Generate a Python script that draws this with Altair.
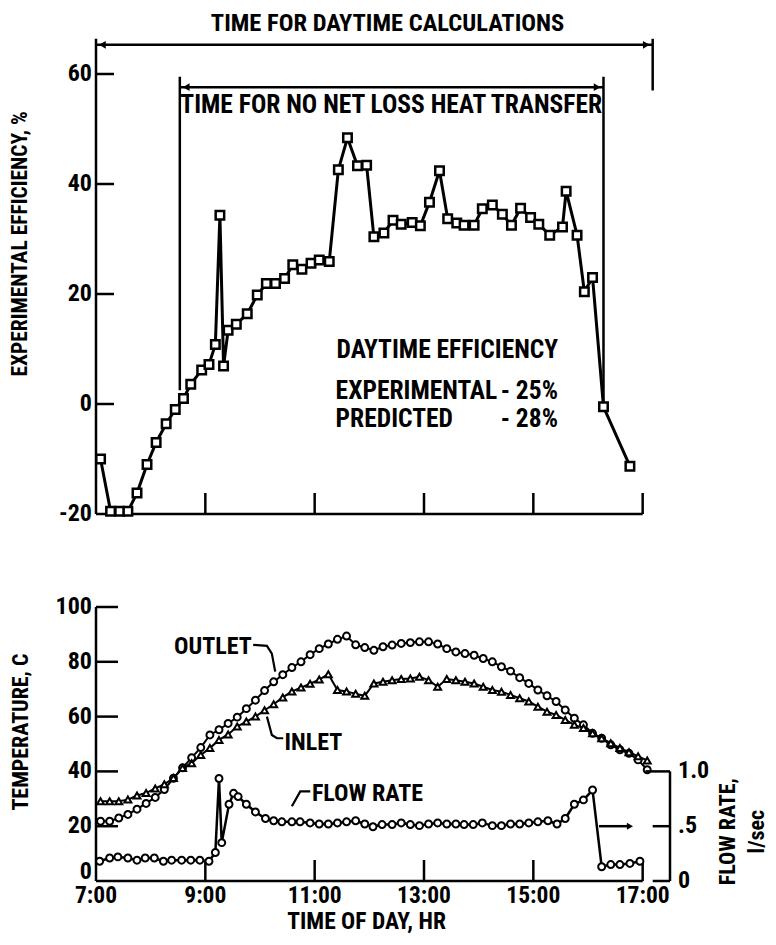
import altair as alt
import pandas as pd

FONT = ("Roboto Condensed, Noto Sans ExtraCondensed, Noto Sans Condensed, "
        "DejaVu Sans Condensed, Liberation Sans Narrow, Arial Narrow, sans-serif")
FS = 24      # tick labels
FA = 25.5    # annotations

# ---------------- top panel: experimental efficiency (time in minutes after midnight) -------------
eff_time = [425, 436, 446, 455, 465, 476, 486, 497, 507, 516, 524, 536, 544, 551, 556, 560, 565,
            574, 586, 597, 607, 617, 627, 636, 646, 656, 665, 676, 686, 696, 707, 717, 725, 736,
            746, 755, 767, 776, 786, 797, 806, 816, 824, 835, 844, 855, 866, 876, 886, 897, 906,
            918, 932, 936, 948, 956, 965, 977, 1006]
eff_value = [-10, -19.5, -19.5, -19.5, -16.2, -11, -7, -3.6, -1, 1, 3.6, 6.2, 7.2, 10.8, 34.3,
             6.9, 13.4, 14.5, 16.4, 19.8, 21.9, 21.9, 22.8, 25.3, 24.5, 25.6, 26.2, 25.9, 42.6,
             48.4, 43.3, 43.4, 30.4, 31.1, 33.4, 32.7, 33, 32.4, 36.7, 42.4, 33.7, 32.9, 32.5,
             32.5, 35.5, 36.2, 34.5, 32.5, 35.6, 33.9, 32.7, 30.7, 32.2, 38.7, 30.7, 20.4, 23.0,
             -0.5, -11.3]

# ---------------- bottom panel: temperatures and flow rate ----------------
temp_time = [425, 435, 445, 455, 465, 475, 485, 495, 505, 515, 525, 535, 545, 555, 565, 575,
             585, 595, 605, 615, 625, 635, 645, 655, 665, 675, 685, 695, 705, 715, 725, 735,
             745, 755, 765, 775, 785, 795, 805, 815, 825, 835, 845, 855, 865, 875, 885, 895,
             905, 915, 925, 935, 945, 955, 965, 975, 985, 995, 1005, 1015, 1025]
outlet_temp = [21.8, 21.8, 23.0, 24.3, 26.2, 28.3, 30.5, 33.4, 37.5, 41.3,
               45.0, 48.7, 53.3, 55.2, 57.5, 59.8, 62.9, 66.0, 69.5, 72.7,
               75.3, 77.9, 80.0, 82.6, 84.8, 86.5, 88.2, 89.4, 86.2, 85.2,
               84.2, 85.5, 86.1, 86.7, 87.0, 87.3, 87.3, 86.5, 84.8, 83.6,
               83.0, 82.4, 81.2, 80.0, 78.2, 76.6, 74.2, 72.1, 69.7, 67.6,
               65.5, 62.4, 59.4, 57.0, 53.9, 52.1, 49.7, 47.9, 46.6, 44.2, 40.6]
inlet_temp = [29.1, 29.1, 29.1, 29.7, 31.2, 32.1, 33.8, 35.3, 37.6, 41.2,
              43.0, 46.0, 48.5, 51.5, 53.5, 56.4, 58.2, 60.0, 62.3, 64.5,
              67.0, 69.2, 70.6, 72.0, 73.5, 75.5, 69.7, 69.2, 68.3, 67.6,
              72.1, 72.7, 73.3, 73.7, 73.9, 74.5, 73.3, 70.9, 73.7, 73.3,
              72.7, 72.1, 70.9, 69.7, 69.1, 67.9, 66.7, 65.5, 63.6, 61.8,
              60.6, 58.8, 57.0, 55.8, 53.9, 52.1, 50.3, 48.5, 47.0, 45.5, 44.0]
flow_time = [424, 435, 444, 455, 465, 474, 484, 494, 503, 514,
             524, 534, 544, 551, 555, 558, 566, 571, 576, 585,
             595, 606, 615, 624, 635, 644, 655, 665, 675, 685,
             695, 705, 715, 724, 734, 745, 755, 765, 775, 785,
             795, 805, 815, 824, 834, 844, 855, 865, 875, 885,
             895, 905, 916, 926, 935, 945, 955, 965, 975, 985,
             995, 1006, 1017]
flow_rate = [.18, .21, .22, .21, .19, .21, .21, .18, .19, .19,
             .19, .19, .18, .26, .935, .35, .70, .80, .77, .70,
             .63, .57, .55, .54, .54, .54, .53, .52, .52, .53,
             .54, .55, .52, .495, .515, .515, .53, .515, .505, .52,
             .53, .52, .52, .515, .515, .53, .505, .505, .52, .52,
             .53, .54, .55, .52, .57, .70, .74, .83, .13, .15,
             .15, .16, .18]

hour_ticks = [420, 540, 660, 780, 900, 1020]
hour_labels = ["7:00", "9:00", "11:00", "13:00", "15:00", "17:00"]
eff_ticks = [-20, 0, 20, 40, 60]
temp_ticks = [0, 20, 40, 60, 80, 100]
flow_ticks = [0, 0.5, 1.0]
flow_labels = ["0", ".5", "1.0"]

T0, T1 = 420, 1050
W, H_TOP, H_BOT = 574, 495, 274
MPP = (T1 - T0) / W          # minutes per pixel, used only to offset label positions
xs = alt.Scale(domain=[T0, T1], nice=False, zero=False)
ys_eff = alt.Scale(domain=[-20, 70], nice=False, zero=False)
ys_temp = alt.Scale(domain=[0, 100], nice=False, zero=False)
ys_flow = alt.Scale(domain=[0, 2.5], nice=False, zero=False)
EPP = 90 / H_TOP             # efficiency units per pixel
TPP = 100 / H_BOT            # temperature units per pixel


def rule_layer(segs, ys, width=2.5):
    df = pd.DataFrame(segs, columns=["t", "t2", "v", "v2"])
    return alt.Chart(df).mark_rule(color="black", strokeWidth=width).encode(
        x=alt.X("t:Q", scale=xs, axis=None), x2="t2:Q",
        y=alt.Y("v:Q", scale=ys, axis=None), y2="v2:Q")


def text_layer(items, ys, align="left", angle=0, size=FA):
    df = pd.DataFrame(items, columns=["t", "v", "label"])
    return alt.Chart(df).mark_text(font=FONT, fontSize=size, fontWeight="bold", color="black",
                                   align=align, baseline="middle", angle=angle).encode(
        x=alt.X("t:Q", scale=xs, axis=None), y=alt.Y("v:Q", scale=ys, axis=None), text="label:N")


def arrow_layer(items, ys, size=60):
    df = pd.DataFrame(items, columns=["t", "v", "shape"])
    return alt.Chart(df).mark_point(filled=True, color="black", opacity=1, size=size).encode(
        x=alt.X("t:Q", scale=xs, axis=None), y=alt.Y("v:Q", scale=ys, axis=None),
        shape=alt.Shape("shape:N", scale=None))


def leader_layer(items, ys):
    df = pd.DataFrame(items, columns=["g", "o", "t", "v"])
    return alt.Chart(df).mark_line(color="black", strokeWidth=2.2).encode(
        x=alt.X("t:Q", scale=xs, axis=None), y=alt.Y("v:Q", scale=ys, axis=None),
        detail="g:N", order="o:Q")


# ---------------- top panel ----------------
eff_df = pd.DataFrame({"t": eff_time, "v": eff_value})
eff_line = alt.Chart(eff_df).mark_line(color="black", strokeWidth=3).encode(
    x=alt.X("t:Q", scale=xs, axis=None), y=alt.Y("v:Q", scale=ys_eff, axis=None))
eff_pts = alt.Chart(eff_df).mark_point(shape="square", filled=True, fill="white", stroke="black",
                                       strokeWidth=2.5, size=72, opacity=1).encode(
    x=alt.X("t:Q", scale=xs, axis=None), y=alt.Y("v:Q", scale=ys_eff, axis=None))

top_segs = [(T0, T0, -20, 66.4), (T0, 1020, -20, -20)]
top_segs += [(T0, T0 + 18 * MPP, v, v) for v in eff_ticks[1:]]
top_segs += [(t, t, -20, -20 + 21 * EPP) for t in hour_ticks[1:]]
top_segs += [(T0, 1031, 65.3, 65.3), (1031, 1031, 57.0, 66.4),
             (512, 977, 57.6, 57.6), (512, 512, 2.5, 59.5), (977, 977, 0, 59.5)]
top_rules = rule_layer(top_segs, ys_eff)
top_arrows = arrow_layer([(427, 65.3, "triangle-left"), (1024, 65.3, "triangle-right"),
                          (519, 57.6, "triangle-left"), (970, 57.6, "triangle-right")], ys_eff)
top_head = text_layer([(740, 69.1, "TIME FOR DAYTIME CALCULATIONS")], ys_eff, align="center",
                      size=24.5)
top_center = text_layer([(744, 54.4, "TIME FOR NO NET LOSS HEAT TRANSFER")], ys_eff,
                        align="center")
top_left = text_layer([(684, 9.8, "DAYTIME EFFICIENCY"), (683, 2.4, "EXPERIMENTAL"),
                       (683, -2.7, "PREDICTED")], ys_eff, align="left")
top_right = text_layer([(927, 2.4, "- 25%"), (927, -2.7, "- 28%")], ys_eff, align="right")
top_ticklabels = text_layer([(T0 - 4 * MPP, v, str(v)) for v in eff_ticks], ys_eff,
                            align="right", size=FS)
top_title = text_layer([(T0 - 75 * MPP, 29.1, "EXPERIMENTAL EFFICIENCY, %")], ys_eff,
                       align="center", angle=270, size=21.5)

top = alt.layer(top_rules, top_arrows, eff_line, eff_pts, top_head, top_center, top_left,
                top_right, top_ticklabels, top_title).properties(width=W, height=H_TOP)

# ---------------- bottom panel ----------------
temp_df = pd.DataFrame({"t": temp_time, "outlet": outlet_temp, "inlet": inlet_temp})
flow_df = pd.DataFrame({"t": flow_time, "f": flow_rate})

outlet_line = alt.Chart(temp_df).mark_line(color="black", strokeWidth=2).encode(
    x=alt.X("t:Q", scale=xs, axis=None), y=alt.Y("outlet:Q", scale=ys_temp, axis=None))
outlet_pts = alt.Chart(temp_df).mark_point(shape="circle", filled=True, fill="white", stroke="black",
                                           strokeWidth=2, size=48, opacity=1).encode(
    x=alt.X("t:Q", scale=xs, axis=None), y=alt.Y("outlet:Q", scale=ys_temp, axis=None))
inlet_line = alt.Chart(temp_df).mark_line(color="black", strokeWidth=2).encode(
    x=alt.X("t:Q", scale=xs, axis=None), y=alt.Y("inlet:Q", scale=ys_temp, axis=None))
inlet_pts = alt.Chart(temp_df).mark_point(shape="triangle-up", filled=True, fill="white",
                                          stroke="black", strokeWidth=2, size=48, opacity=1).encode(
    x=alt.X("t:Q", scale=xs, axis=None), y=alt.Y("inlet:Q", scale=ys_temp, axis=None))

bot_segs = [(T0, T0, 0, 100), (T0, 1020, 0, 0)]
bot_segs += [(T0, T0 + 22 * MPP, v, v) for v in temp_ticks[1:]]
bot_segs += [(t, t, 0, 21 * TPP) for t in hour_ticks[1:]]
bot_rules = rule_layer(bot_segs, ys_temp)
leaders = leader_layer([
    ("o", 0, 592.5, 86.2), ("o", 1, 607.6, 85.8), ("o", 2, 613, 83.0), ("o", 3, 616.7, 76.4),
    ("i", 0, 607.6, 60.0), ("i", 1, 613, 53.3), ("i", 2, 618.6, 52.1), ("i", 3, 625.5, 52.1),
    ("f", 0, 635, 27.3), ("f", 1, 644.2, 32.7), ("f", 2, 655.2, 32.7)], ys_temp)
bot_texts_r = text_layer([(591, 85.5, "OUTLET")], ys_temp, align="right", size=24)
bot_texts_l = text_layer([(627, 50.5, "INLET"), (657, 31.6, "FLOW RATE")], ys_temp,
                         align="left", size=24)
temp_ticklabels = text_layer([(T0 - 4 * MPP, max(v, 9 * TPP), str(v)) for v in temp_ticks],
                             ys_temp, align="right", size=FS)
hour_ticklabels = text_layer([(t, -14.5 * TPP, lab) for t, lab in zip(hour_ticks, hour_labels)],
                             ys_temp, align="center", size=23.5)
bot_xtitle = text_layer([(717, -41 * TPP, "TIME OF DAY, HR")], ys_temp, align="center", size=23.5)
bot_ytitle = text_layer([(T0 - 75 * MPP, (880 - 731) * TPP, "TEMPERATURE, C")], ys_temp,
                        align="center", angle=270, size=22)

temp_layer = alt.layer(bot_rules, leaders, outlet_line, outlet_pts, inlet_line, inlet_pts,
                       bot_texts_r, bot_texts_l, temp_ticklabels, hour_ticklabels, bot_xtitle,
                       bot_ytitle)

flow_line = alt.Chart(flow_df).mark_line(color="black", strokeWidth=2.5).encode(
    x=alt.X("t:Q", scale=xs, axis=None), y=alt.Y("f:Q", scale=ys_flow, axis=None))
flow_pts = alt.Chart(flow_df).mark_point(shape="circle", filled=True, fill="white", stroke="black",
                                         strokeWidth=2, size=48, opacity=1).encode(
    x=alt.X("t:Q", scale=xs, axis=None), y=alt.Y("f:Q", scale=ys_flow, axis=None))
flow_rules = rule_layer([(1050, 1050, 0, 1.0), (1023, 1050, 1.0, 1.0), (1031, 1050, 0, 0),
                         (1031, 1050, 0.5, 0.5), (972, 1003, 0.5, 0.5)], ys_flow)
flow_arrow = arrow_layer([(1006, 0.5, "triangle-right")], ys_flow, size=50)
flow_ticklabels = text_layer([(T1 + 8 * MPP, v, lab) for v, lab in zip(flow_ticks, flow_labels)],
                             ys_flow, align="left", size=FS)
flow_title = text_layer([(T1 + 58 * MPP, 0.45, "FLOW RATE,"), (T1 + 87 * MPP, 0.45, "l/sec")],
                        ys_flow, align="center", angle=270, size=22)
flow_layer = alt.layer(flow_line, flow_pts, flow_rules, flow_arrow, flow_ticklabels, flow_title)

bottom = alt.layer(temp_layer, flow_layer).resolve_scale(y="independent").properties(
    width=W, height=H_BOT)

chart = alt.vconcat(top, bottom, spacing=93, bounds="flush").properties(
    padding={"left": 1, "top": 2, "right": 0, "bottom": 0}
).configure_view(stroke=None)

chart.save("out.html", embed_options={"renderer": "svg", "actions": False})
